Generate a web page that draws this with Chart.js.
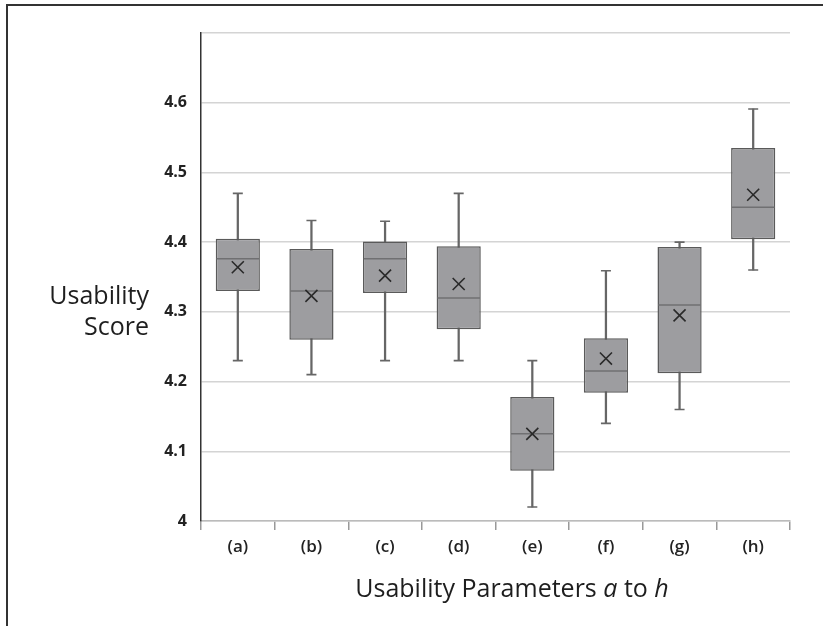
<!DOCTYPE html>
<html><head><meta charset="utf-8">
<script src="https://cdn.jsdelivr.net/npm/chart.js@4.4.1/dist/chart.umd.min.js"></script>
<style>html,body{margin:0;padding:0;background:#fff}#wrap{position:relative;width:823px;height:626px}</style>
</head><body><div id="wrap"><canvas id="c" width="823" height="626"></canvas></div>
<script>
const categories = ['(a)', '(b)', '(c)', '(d)', '(e)', '(f)', '(g)', '(h)'];
const whiskerMin = [4.23, 4.21, 4.23, 4.23, 4.02, 4.14, 4.16, 4.36];
const q1 = [4.33, 4.26, 4.327, 4.275, 4.072, 4.184, 4.212, 4.404];
const median = [4.376, 4.33, 4.376, 4.32, 4.125, 4.215, 4.31, 4.45];
const q3 = [4.405, 4.39, 4.401, 4.394, 4.178, 4.262, 4.393, 4.535];
const whiskerMax = [4.47, 4.431, 4.43, 4.47, 4.23, 4.359, 4.40, 4.591];
const mean = [4.364, 4.323, 4.352, 4.34, 4.125, 4.233, 4.295, 4.468];
const yTickLabels = ['4', '4.1', '4.2', '4.3', '4.4', '4.5', '4.6', ''];
const yTitleLines = ['Usability', 'Score'];
const xTitleParts = [['Usability Parameters ', false], ['a', true], [' to ', false], ['h', true]];

const FONT = '"Open Sans", "Liberation Sans", sans-serif';

const framePlugin = {
  id: 'frame',
  beforeDraw(chart) {
    const ctx = chart.ctx;
    ctx.save();
    ctx.strokeStyle = '#333';
    ctx.lineWidth = 2;
    ctx.beginPath();
    ctx.moveTo(7, 626); ctx.lineTo(7, 5); ctx.lineTo(823, 5);
    ctx.stroke();
    ctx.restore();
  },
  afterDraw(chart) {
    const ctx = chart.ctx;
    ctx.save();
    ctx.fillStyle = '#1e1e1e';
    ctx.textBaseline = 'middle';
    ctx.textAlign = 'right';
    ctx.font = '500 25px ' + FONT;
    ctx.fillText(yTitleLines[0], 149, 297);
    ctx.fillText(yTitleLines[1], 149, 328);
    ctx.textAlign = 'left';
    const normal = '500 25px ' + FONT, italic = 'italic 500 25px ' + FONT;
    let total = 0;
    xTitleParts.forEach(([t, it]) => { ctx.font = it ? italic : normal; total += ctx.measureText(t).width; });
    let x = 512 - total / 2;
    xTitleParts.forEach(([t, it]) => { ctx.font = it ? italic : normal; ctx.fillText(t, x, 590); x += ctx.measureText(t).width; });
    ctx.restore();
  }
};

new Chart(document.getElementById('c'), {
  type: 'bar',
  data: {
    labels: categories,
    datasets: [
      {
        type: 'bar', label: 'whisker',
        data: whiskerMin.map((v, i) => [v, whiskerMax[i]]),
        backgroundColor: '#666', borderWidth: 0, barThickness: 1.6, grouped: false, order: 10
      },
      {
        type: 'bar', label: 'box',
        data: q1.map((v, i) => [v, q3[i]]),
        backgroundColor: '#9d9da0', borderColor: '#5a5a5a', borderWidth: 1.5, borderSkipped: false,
        barPercentage: 0.6, categoryPercentage: 1, grouped: false, order: 5
      },
      {
        type: 'line', label: 'max', data: whiskerMax, showLine: false,
        pointStyle: 'line', pointRadius: 5, pointBorderColor: '#666', pointBorderWidth: 1.6, order: 4
      },
      {
        type: 'line', label: 'min', data: whiskerMin, showLine: false,
        pointStyle: 'line', pointRadius: 5, pointBorderColor: '#666', pointBorderWidth: 1.6, order: 4
      },
      {
        type: 'line', label: 'median', data: median, showLine: false,
        pointStyle: 'line', pointRadius: 21.3, pointBorderColor: '#707072', pointBorderWidth: 1.5, order: 3
      },
      {
        type: 'line', label: 'mean', data: mean, showLine: false,
        pointStyle: 'crossRot', pointRadius: 8.5, pointBorderColor: '#2a2a2a', pointBorderWidth: 1.6, order: 1
      }
    ]
  },
  options: {
    responsive: false,
    animation: false,
    events: [],
    layout: { padding: { top: 33, right: 33, left: 0, bottom: 0 } },
    plugins: { legend: { display: false }, tooltip: { enabled: false } },
    scales: {
      x: {
        offset: true,
        afterFit(s) { s.height = 105; },
        grid: { drawOnChartArea: false, drawTicks: true, tickLength: 9, color: '#999', lineWidth: 1.5, offset: true },
        border: { color: '#bbb', width: 1.5 },
        ticks: { font: { family: FONT, size: 17, weight: '600' }, color: '#222', padding: 7 }
      },
      y: {
        min: 4, max: 4.7,
        afterFit(s) { s.width = 201; },
        grid: { color: '#d4d4d4', lineWidth: 1.5, drawTicks: false },
        border: { color: '#333', width: 1.5 },
        ticks: {
          stepSize: 0.1, padding: 14, color: '#222',
          font: { family: FONT, size: 16, weight: 'bold' },
          callback: (v, i) => yTickLabels[i]
        }
      }
    }
  },
  plugins: [framePlugin]
});
</script>
</body></html>
